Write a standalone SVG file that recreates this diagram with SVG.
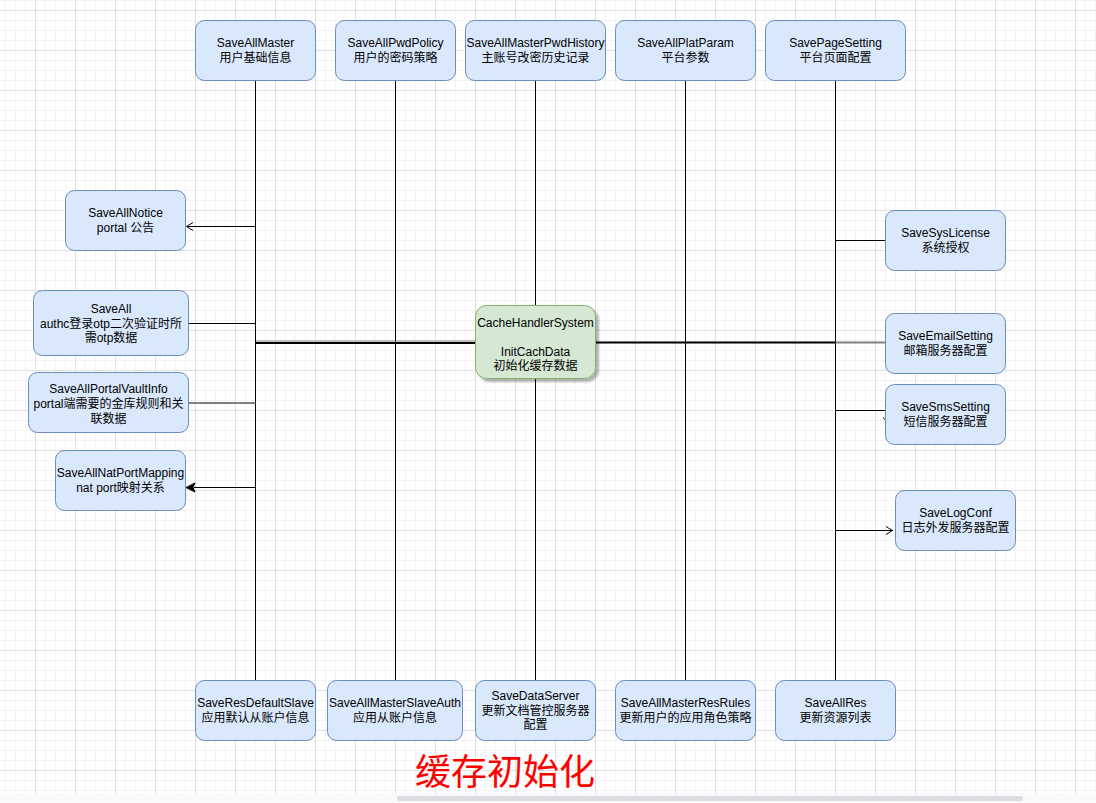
<svg xmlns="http://www.w3.org/2000/svg" width="1096" height="803" viewBox="0 0 1096 803">
<style>
.n{fill:#dae8fc;stroke:#6c8ebf;stroke-width:1}
.c{fill:#d5e8d4;stroke:#82b366;stroke-width:1}
.t{font-family:"Liberation Sans","Noto Sans CJK SC",sans-serif;font-size:12px;fill:#000;text-anchor:middle}
.l{stroke:#000;stroke-width:1;fill:none}
.title{font-family:"Noto Sans CJK SC","Liberation Sans",sans-serif;font-size:36px;fill:#ff0000;text-anchor:middle}
</style>
<defs>
<pattern id="grid" width="40" height="40" patternUnits="userSpaceOnUse" x="35" y="10">
<path d="M10 0V40M20 0V40M30 0V40M0 10H40M0 20H40M0 30H40" stroke="#f3f3f3" stroke-width="1" fill="none" shape-rendering="crispEdges"/>
<path d="M0.5 0V40M0 0.5H40" stroke="#e0e0e0" stroke-width="1" fill="none" shape-rendering="crispEdges"/>
</pattern>
<filter id="sh" x="-10%" y="-10%" width="130%" height="130%">
<feGaussianBlur in="SourceAlpha" stdDeviation="1"/>
<feOffset dx="3" dy="3"/>
<feComponentTransfer><feFuncA type="linear" slope="0.3"/></feComponentTransfer>
<feMerge><feMergeNode/><feMergeNode in="SourceGraphic"/></feMerge>
</filter>
</defs>
<rect width="1096" height="803" fill="#ffffff"/>
<rect width="1096" height="803" fill="url(#grid)"/>
<g id="connectors">
<path class="l" d="M255.5 80V680M395.5 80V680M535.5 80V680M685.5 80V680M835.5 80V680"/>
<path class="l" d="M255.5 226.5H187M193 222.5L186.5 226.5L193 230.5"/>
<path class="l" d="M188 323.5H255.5"/>
<path d="M188 403H255.5" stroke="#808080" stroke-width="2"/>
<path class="l" d="M255.5 487.5H194"/>
<path d="M186 487.5L195 483L193 487.5L195 492Z" fill="#000" stroke="#000"/>
<path d="M256 341H475" stroke="#888" stroke-width="1"/>
<path d="M256 343H475" stroke="#000" stroke-width="2"/>
<path d="M596 342.5H835.5" stroke="#000" stroke-width="2"/>
<path d="M835.5 342.5H885" stroke="#808080" stroke-width="2"/>
<path class="l" d="M835.5 240.5H885"/>
<path class="l" d="M835.5 410.5H885"/>
<path d="M883 417L885 420" stroke="#444" stroke-width="1"/>
<path class="l" d="M835.5 530.5H893M886 526.5L892.5 530.5L886 534.5"/>
</g>
<g id="SaveAllMaster"><rect class="n" x="195.5" y="20.5" width="120" height="60" rx="9"/><text class="t" x="255.5" y="47">SaveAllMaster</text><text class="t" x="255.5" y="62">用户基础信息</text></g>
<g id="SaveAllPwdPolicy"><rect class="n" x="335.5" y="20.5" width="120" height="60" rx="9"/><text class="t" x="395.5" y="47">SaveAllPwdPolicy</text><text class="t" x="395.5" y="62">用户的密码策略</text></g>
<g id="SaveAllMasterPwdHistory"><rect class="n" x="465.5" y="20.5" width="140" height="60" rx="9"/><text class="t" x="535.5" y="47">SaveAllMasterPwdHistory</text><text class="t" x="535.5" y="62">主账号改密历史记录</text></g>
<g id="SaveAllPlatParam"><rect class="n" x="615.5" y="20.5" width="140" height="60" rx="9"/><text class="t" x="685.5" y="47">SaveAllPlatParam</text><text class="t" x="685.5" y="62">平台参数</text></g>
<g id="SavePageSetting"><rect class="n" x="765.5" y="20.5" width="140" height="60" rx="9"/><text class="t" x="835.5" y="47">SavePageSetting</text><text class="t" x="835.5" y="62">平台页面配置</text></g>
<g id="SaveAllNotice"><rect class="n" x="65.5" y="190.5" width="120" height="60" rx="9"/><text class="t" x="125.5" y="217">SaveAllNotice</text><text class="t" x="125.5" y="232">portal 公告</text></g>
<g id="SaveAll"><rect class="n" x="33.5" y="290.5" width="155" height="65" rx="9"/><text class="t" x="111" y="312.5">SaveAll</text><text class="t" x="111" y="327.5">authc登录otp二次验证时所</text><text class="t" x="111" y="342">需otp数据</text></g>
<g id="SaveAllPortalVaultInfo"><rect class="n" x="28.5" y="372.5" width="160" height="60" rx="9"/><text class="t" x="108.5" y="392.5">SaveAllPortalVaultInfo</text><text class="t" x="108.5" y="407.5">portal端需要的金库规则和关</text><text class="t" x="108.5" y="422.5">联数据</text></g>
<g id="SaveAllNatPortMapping"><rect class="n" x="55.5" y="450.5" width="130" height="60" rx="9"/><text class="t" x="120.5" y="477">SaveAllNatPortMapping</text><text class="t" x="120.5" y="492">nat port映射关系</text></g>
<g id="CacheHandlerSystem"><rect class="c" x="475.5" y="305.5" width="120" height="73" rx="11" filter="url(#sh)"/><text class="t" x="535.5" y="326.5">CacheHandlerSystem</text><text class="t" x="535.5" y="355.5">InitCachData</text><text class="t" x="535.5" y="369.5">初始化缓存数据</text></g>
<g id="SaveSysLicense"><rect class="n" x="885.5" y="210.5" width="120" height="60" rx="9"/><text class="t" x="945.5" y="237">SaveSysLicense</text><text class="t" x="945.5" y="252">系统授权</text></g>
<g id="SaveEmailSetting"><rect class="n" x="885.5" y="313.5" width="120" height="60" rx="9"/><text class="t" x="945.5" y="340">SaveEmailSetting</text><text class="t" x="945.5" y="355">邮箱服务器配置</text></g>
<g id="SaveSmsSetting"><rect class="n" x="885.5" y="384.5" width="120" height="60" rx="9"/><text class="t" x="945.5" y="411">SaveSmsSetting</text><text class="t" x="945.5" y="426">短信服务器配置</text></g>
<g id="SaveLogConf"><rect class="n" x="895.5" y="490.5" width="120" height="60" rx="9"/><text class="t" x="955.5" y="517">SaveLogConf</text><text class="t" x="955.5" y="532">日志外发服务器配置</text></g>
<g id="SaveResDefaultSlave"><rect class="n" x="195.5" y="680.5" width="120" height="60" rx="9"/><text class="t" x="255.5" y="707">SaveResDefaultSlave</text><text class="t" x="255.5" y="722">应用默认从账户信息</text></g>
<g id="SaveAllMasterSlaveAuth"><rect class="n" x="327.5" y="680.5" width="135" height="60" rx="9"/><text class="t" x="395" y="707">SaveAllMasterSlaveAuth</text><text class="t" x="395" y="722">应用从账户信息</text></g>
<g id="SaveDataServer"><rect class="n" x="475.5" y="680.5" width="120" height="60" rx="9"/><text class="t" x="535.5" y="699.5">SaveDataServer</text><text class="t" x="535.5" y="714.5">更新文档管控服务器</text><text class="t" x="535.5" y="729">配置</text></g>
<g id="SaveAllMasterResRules"><rect class="n" x="615.5" y="680.5" width="140" height="60" rx="9"/><text class="t" x="685.5" y="707">SaveAllMasterResRules</text><text class="t" x="685.5" y="722">更新用户的应用角色策略</text></g>
<g id="SaveAllRes"><rect class="n" x="775.5" y="680.5" width="120" height="60" rx="9"/><text class="t" x="835.5" y="707">SaveAllRes</text><text class="t" x="835.5" y="722">更新资源列表</text></g>
<text class="title" x="505" y="785">缓存初始化</text>
<rect x="0" y="793" width="1096" height="10" fill="#f8f9fa"/>
<rect x="397" y="796" width="626" height="5" rx="2.5" fill="#dadce0"/>
</svg>
